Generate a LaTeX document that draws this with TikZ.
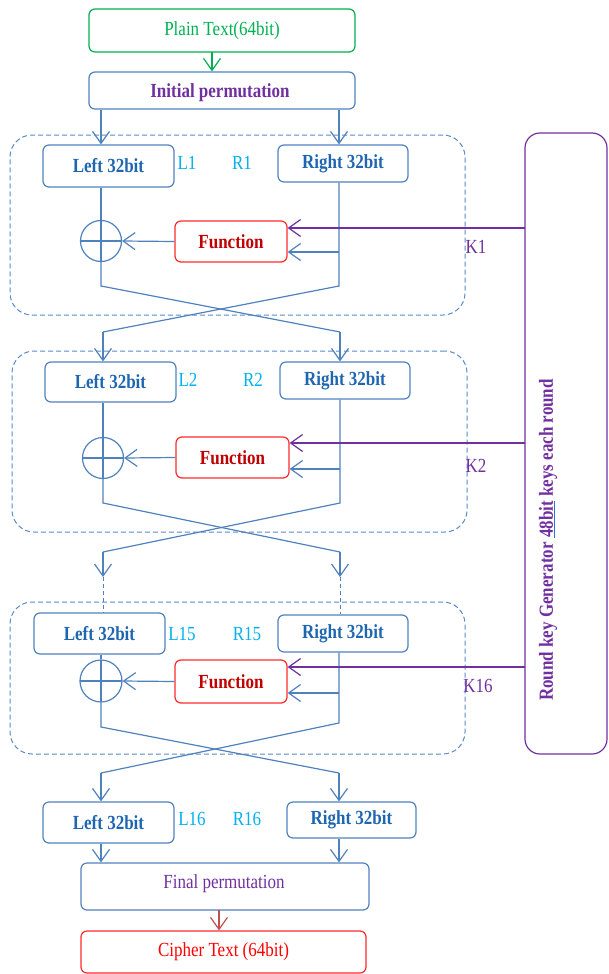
\documentclass[tikz,border=0pt]{standalone}
\usepackage{fontspec}
\setmainfont[FakeStretch=0.85]{Liberation Serif}
\usetikzlibrary{arrows.meta}
\definecolor{cgreen}{HTML}{00B050}
\definecolor{cblue}{HTML}{4F81BD}
\definecolor{cdash}{HTML}{5B8BC9}
\definecolor{ctblue}{HTML}{1F66B0}
\definecolor{cpurple}{HTML}{7030A0}
\definecolor{cred}{HTML}{FF2A2A}
\definecolor{cdred}{HTML}{C00000}
\definecolor{ccyan}{HTML}{00B0F0}
\definecolor{cbrown}{HTML}{C0504D}
\definecolor{culblue}{HTML}{2F6FE0}
\begin{document}
\begin{tikzpicture}[x=1pt,y=-1pt,
  every node/.style={font=\fontsize{20}{24}\selectfont, inner sep=0pt},
  bbox/.style={draw=cblue, line width=1.2pt, rounded corners=6pt},
  lr/.style={bbox, text=ctblue, font=\fontsize{20}{24}\selectfont\bfseries},
  fn/.style={draw=cred, line width=1.2pt, rounded corners=6pt, text=cdred, font=\fontsize{20}{24}\selectfont\bfseries},
  dbox/.style={draw=cdash, line width=1pt, dash pattern=on 5pt off 3pt, rounded corners=22pt},
  xorc/.style={circle, draw=cblue, line width=1.2pt, minimum size=41pt,
    path picture={\draw[cblue, line width=1.2pt] (path picture bounding box.west) -- (path picture bounding box.east);
                  \draw[cblue, line width=1.2pt] (path picture bounding box.north) -- (path picture bounding box.south);}},
  lab/.style={text=ccyan},
  klab/.style={text=cpurple},
  line/.style={draw=cblue, line width=1.2pt},
  tipv/.tip={Straight Barb[length=12pt,width=17pt]},
  arr/.style={line, -tipv},
  karr/.style={draw=cpurple, line width=1.2pt, -tipv},
]
\useasboundingbox (0,0) rectangle (608,974);

% top
\node[draw=cgreen, line width=1.2pt, rounded corners=6pt, text=cgreen, minimum width=266pt, minimum height=43pt] (plain) at (222,30.5) {Plain Text(64bit)};
\node[bbox, minimum width=266pt, minimum height=37pt] (init) at (222,90.5) {};
\node[text=cpurple, font=\fontsize{20}{24}\selectfont\bfseries] (initt) at (220,93) {Initial permutation};
\coordinate (pa) at (212,52);
\draw[draw=cgreen, line width=1.2pt, -tipv] (pa) -- (pa |- init.north);

% key generator
\node[draw=cpurple, line width=1.2pt, rounded corners=15pt, minimum width=82pt, minimum height=621pt] (kg) at (566,443.5) {};
\node[rotate=90, text=cpurple, font=\fontsize{20}{24}\selectfont\bfseries] (kgt) at (548,540) {Round key Generator {\color{culblue}\underline{\textcolor{cpurple}{48bit}}} keys each round};

% ---------- round 1
\node[dbox, minimum width=455pt, minimum height=180pt] (d1) at (237.5,225) {};
\node[lr, minimum width=131pt, minimum height=42pt] (l1) at (108.5,166) {Left 32bit};
\node[lr, minimum width=130pt, minimum height=37pt] (r1) at (343,163.5) {Right 32bit};
\node[lab] (ll1) at (187,163) {L1};
\node[lab] (rl1) at (242,163) {R1};
\node[xorc] (x1) at (101,241) {};
\node[fn, minimum width=112pt, minimum height=41pt] (f1) at (231,241.5) {Function};
\node[klab] (k1) at (476,247) {K1};
\coordinate (c1a) at (101,286);
\coordinate (c1b) at (339,286);
\coordinate (c1c) at (340,332);
\coordinate (c1d) at (103,332);
\coordinate (fd1) at (339,252);
\coordinate (kk1) at (525,228);
\draw[arr] (init.south -| c1a) -- (l1.north -| c1a);
\draw[arr] (init.south -| c1b) -- (r1.north -| c1b);
\draw[line] (x1 |- l1.south) -- (x1.north);
\draw[line] (x1.south) -- (c1a) -- (c1c);
\draw[line] (c1b |- r1.south) -- (c1b) -- (c1d);
\draw[arr] (f1.west) -- (x1.east);
\draw[arr] (fd1) -- (fd1 -| f1.east);
\draw[karr] (kk1) -- (kk1 -| f1.east);

% ---------- round 2
\node[dbox, minimum width=455pt, minimum height=181pt] (d2) at (239.5,441.5) {};
\node[lr, minimum width=131pt, minimum height=40pt] (l2) at (110.5,382) {Left 32bit};
\node[lr, minimum width=130pt, minimum height=37pt] (r2) at (345,380.5) {Right 32bit};
\node[lab] (ll2) at (188,380) {L2};
\node[lab] (rl2) at (253,380) {R2};
\node[xorc] (x2) at (103,458) {};
\node[fn, minimum width=113pt, minimum height=41pt] (f2) at (232.5,457.5) {Function};
\node[klab] (k2) at (476,466) {K2};
\coordinate (c2a) at (103,503);
\coordinate (c2b) at (340,503);
\coordinate (c2c) at (340,552);
\coordinate (c2d) at (103,552);
\coordinate (c2e) at (103,577);
\coordinate (c2f) at (340,577);
\coordinate (fd2) at (340,469);
\coordinate (kk2) at (525,443);
\draw[arr] (c1d) -- (c1d |- l2.north);
\draw[arr] (c1c) -- (c1c |- r2.north);
\draw[line] (x2 |- l2.south) -- (x2.north);
\draw[line] (x2.south) -- (c2a) -- (c2c);
\draw[line] (c2b |- r2.south) -- (c2b) -- (c2d);
\draw[arr] (c2d) -- (c2e);
\draw[arr] (c2c) -- (c2f);
\draw[arr] (f2.west) -- (x2.east);
\draw[arr] (fd2) -- (fd2 -| f2.east);
\draw[karr] (kk2) -- (kk2 -| f2.east);

% ---------- round 15
\node[dbox, minimum width=455pt, minimum height=152pt] (d3) at (237.5,678) {};
\node[lr, minimum width=131pt, minimum height=41pt] (l3) at (99.5,633.5) {Left 32bit};
\node[lr, minimum width=130pt, minimum height=37pt] (r3) at (343,633.5) {Right 32bit};
\node[lab] (ll3) at (182,634) {L15};
\node[lab] (rl3) at (247,634) {R15};
\node[xorc, minimum size=42pt] (x3) at (101,681) {};
\node[fn, minimum width=112pt, minimum height=43pt] (f3) at (231,681.5) {Function};
\node[klab] (k3) at (478,686) {K16};
\draw[line, dash pattern=on 4pt off 3pt, line width=1pt] (c2e) -- (c2e |- l3.north);
\draw[line, dash pattern=on 4pt off 3pt, line width=1pt] (c2f) -- (c2f |- r3.north);
\coordinate (c3a) at (101,727);
\coordinate (c3b) at (339,723);
\coordinate (c3c) at (339,773);
\coordinate (c3d) at (101,773);
\coordinate (fd3) at (339,693);
\coordinate (kk3) at (525,667);
\draw[line] (x3 |- l3.south) -- (x3.north);
\draw[line] (x3.south) -- (c3a) -- (c3c);
\draw[line] (c3b |- r3.south) -- (c3b) -- (c3d);
\draw[arr] (f3.west) -- (x3.east);
\draw[arr] (fd3) -- (fd3 -| f3.east);
\draw[karr] (kk3) -- (kk3 -| f3.east);

% ---------- final
\node[lr, minimum width=131pt, minimum height=41pt] (l4) at (108.5,822.5) {Left 32bit};
\node[lr, minimum width=129pt, minimum height=36pt] (r4) at (351.5,820) {Right 32bit};
\node[lab] (ll4) at (192,819) {L16};
\node[lab] (rl4) at (247,819) {R16};
\draw[arr] (c3d) -- (c3d |- l4.north);
\draw[arr] (c3c) -- (c3c |- r4.north);
\node[bbox, minimum width=288pt, minimum height=47pt] (fin) at (225,886.5) {};
\node[text=cpurple] (fint) at (224,884) {Final permutation};
\draw[arr] (c3d |- l4.south) -- (c3d |- fin.north);
\draw[arr] (c3c |- r4.south) -- (c3c |- fin.north);
\node[draw=cred, line width=1.2pt, rounded corners=6pt, text=red, minimum width=285pt, minimum height=42pt] (ciph) at (223.5,952) {Cipher Text (64bit)};
\coordinate (fa) at (219,910);
\draw[draw=cbrown, line width=1.2pt, -tipv] (fa) -- (fa |- ciph.north);
\end{tikzpicture}
\end{document}
